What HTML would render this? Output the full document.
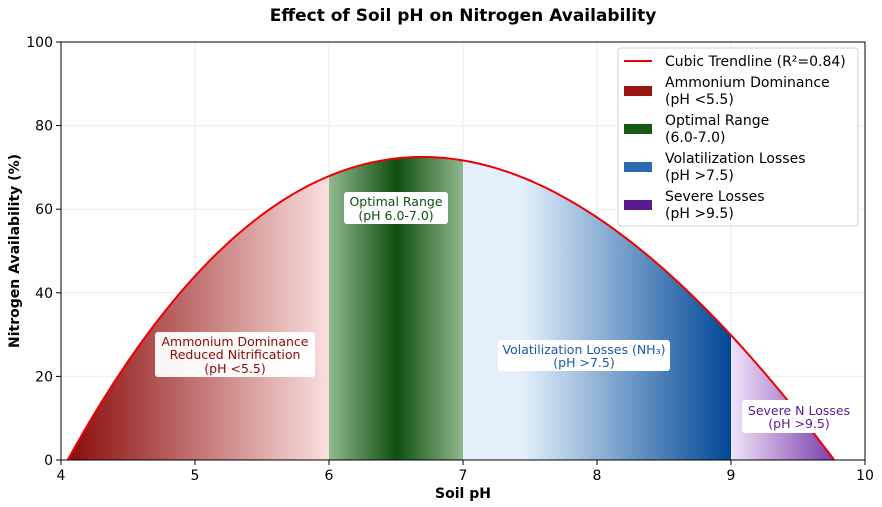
<!DOCTYPE html>
<html><head><meta charset="utf-8"><style>
html,body{margin:0;padding:0;background:#fff;}
svg{display:block;font-family:"DejaVu Sans","Liberation Sans",sans-serif;}
</style></head><body>
<svg id="s" width="882" height="507" viewBox="0 0 882 507">
<defs>
<linearGradient id="gr" x1="0" x2="1"><stop offset="0" stop-color="#8b0a0a"/><stop offset="1" stop-color="#fbe0e0"/></linearGradient>
<linearGradient id="gg" x1="0" x2="1"><stop offset="0" stop-color="#92b88f"/><stop offset="0.5" stop-color="#0f5010"/><stop offset="1" stop-color="#92b88f"/></linearGradient>
<linearGradient id="gb" x1="0" x2="1"><stop offset="0" stop-color="#e3f0fb"/><stop offset="0.22" stop-color="#e3f0fb"/><stop offset="1" stop-color="#004696"/></linearGradient>
<linearGradient id="gp" x1="0" x2="1"><stop offset="0" stop-color="#efe4fa"/><stop offset="1" stop-color="#7a3aa8"/></linearGradient>
<clipPath id="cp"><path id="cpp" d=""/></clipPath>
</defs>
<text x="463" y="21" text-anchor="middle" font-size="17" font-weight="bold">Effect of Soil pH on Nitrogen Availability</text>
<g id="grid" stroke="#ebebeb" stroke-width="1"></g>
<g clip-path="url(#cp)">
<rect x="67" y="40" width="263" height="421" fill="url(#gr)"/>
<rect x="329" y="40" width="135" height="421" fill="url(#gg)"/>
<rect x="463" y="40" width="269" height="421" fill="url(#gb)"/>
<rect x="731" y="40" width="105" height="421" fill="url(#gp)"/>
</g>
<path id="curve" d="" fill="none" stroke="#ee0000" stroke-width="2"/>
<rect x="61" y="42" width="804" height="418" fill="none" stroke="#000" stroke-width="1"/>
<g id="ticks" font-size="14"></g>
<text x="463" y="498" text-anchor="middle" font-size="14" font-weight="bold">Soil pH</text>
<text transform="translate(19,251) rotate(-90)" text-anchor="middle" font-size="14" font-weight="bold">Nitrogen Availability (%)</text>
<g font-size="12.5" text-anchor="middle">
<rect x="155" y="332" width="160" height="45" rx="3" fill="#fff" opacity="0.95"/>
<text x="235" y="346" fill="#8b0a0a">Ammonium Dominance</text>
<text x="235" y="359" fill="#8b0a0a">Reduced Nitrification</text>
<text x="235" y="373" fill="#8b0a0a">(pH &lt;5.5)</text>
<rect x="344" y="192" width="104" height="32" rx="3" fill="#fff"/>
<text x="396" y="206" fill="#0f5010">Optimal Range</text>
<text x="396" y="220" fill="#0f5010">(pH 6.0-7.0)</text>
<rect x="498" y="340" width="172" height="31" rx="3" fill="#fff"/>
<text x="584" y="354" fill="#1a5aa8">Volatilization Losses (NH₃)</text>
<text x="584" y="367" fill="#1a5aa8">(pH &gt;7.5)</text>
<rect x="742" y="400" width="114" height="33" rx="3" fill="#fff"/>
<text x="799" y="415" fill="#5a1a90">Severe N Losses</text>
<text x="799" y="428" fill="#5a1a90">(pH &gt;9.5)</text>
</g>
<g font-size="14">
<rect x="618" y="48" width="240" height="178" rx="3" fill="#fff" stroke="#d0d0d0"/>
<line x1="624" y1="61" x2="652" y2="61" stroke="#ee0000" stroke-width="2"/>
<text x="665" y="66">Cubic Trendline (R²=0.84)</text>
<rect x="624" y="86" width="28" height="10" fill="#9a1414"/>
<text x="665" y="87">Ammonium Dominance</text><text x="665" y="104">(pH &lt;5.5)</text>
<rect x="624" y="124" width="28" height="10" fill="#145a14"/>
<text x="665" y="125">Optimal Range</text><text x="665" y="142">(6.0-7.0)</text>
<rect x="624" y="162" width="28" height="10" fill="#2a6ab0"/>
<text x="665" y="163">Volatilization Losses</text><text x="665" y="180">(pH &gt;7.5)</text>
<rect x="624" y="200" width="28" height="10" fill="#5a1a90"/>
<text x="665" y="201">Severe Losses</text><text x="665" y="218">(pH &gt;9.5)</text>
</g>
</svg>
<script>
var X=function(x){return 61+(x-4)*134;},Y=function(v){return 460-v*4.18;};
var f=function(x){return 0.469*(x-4.05)*(9.77-x)*(25.7-x);};
var d="";for(var i=0;i<=200;i++){var x=4.05+(9.77-4.05)*i/200;d+=(i?"L":"M")+X(x).toFixed(2)+","+Y(Math.max(0,f(x))).toFixed(2);}
document.getElementById("curve").setAttribute("d",d);
document.getElementById("cpp").setAttribute("d",d+"Z");
var g=document.getElementById("grid"),t=document.getElementById("ticks"),h="",gh="";
for(var k=5;k<10;k++)gh+='<line x1="'+X(k)+'" y1="42" x2="'+X(k)+'" y2="460"/>';
for(var v=20;v<100;v+=20)gh+='<line x1="61" y1="'+Y(v)+'" x2="865" y2="'+Y(v)+'"/>';
g.innerHTML=gh;
for(var k=4;k<=10;k++)h+='<line x1="'+X(k)+'" y1="460" x2="'+X(k)+'" y2="465" stroke="#000"/><text x="'+X(k)+'" y="480" text-anchor="middle">'+k+'</text>';
for(var v=0;v<=100;v+=20)h+='<line x1="56" y1="'+Y(v)+'" x2="61" y2="'+Y(v)+'" stroke="#000"/><text x="53" y="'+(Y(v)+5)+'" text-anchor="end">'+v+'</text>';
t.innerHTML=h;
</script>
</body></html>
